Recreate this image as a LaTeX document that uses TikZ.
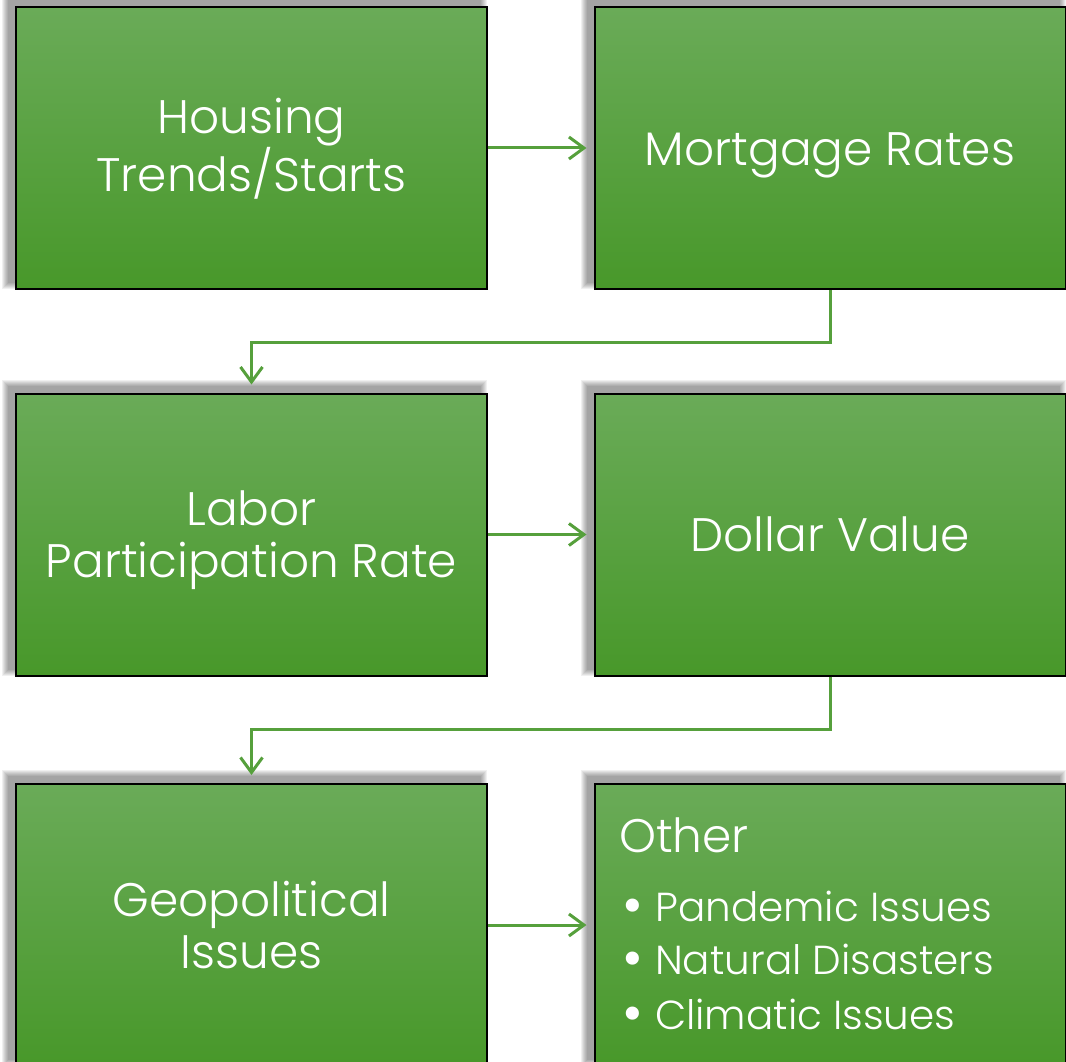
\documentclass[tikz,border=0pt]{standalone}
\usepackage{fontspec}
\setmainfont{Poppins}[UprightFont=* Light]
\usetikzlibrary{arrows.meta}
\definecolor{gtop}{RGB}{106,171,88}
\definecolor{gbot}{RGB}{72,152,42}
\definecolor{arrgreen}{RGB}{86,160,60}
\newcommand{\bigbul}{\makebox[34pt][l]{\hspace{1pt}\raisebox{-3pt}[0pt][0pt]{\scalebox{1.4}{•}}}}
\tikzset{
  box/.style={draw=black, line width=2pt, minimum width=471pt, minimum height=282pt,
    inner sep=0pt, top color=gtop, bottom color=gbot, text=white, align=center,
    font=\fontsize{47}{52}\selectfont, text height=34pt, text depth=0pt},
  twoline/.style={text height=86pt},
  conn/.style={draw=arrgreen, line width=3pt,
    -{Straight Barb[length=15pt,width=22pt,line width=3pt]}, shorten >=7pt},
  listtext/.style={anchor=base west, inner sep=0pt, text=white},
}
\begin{document}
\begin{tikzpicture}[x=1pt,y=-1pt]
\useasboundingbox (0,0) rectangle (1066,1062);
\clip (0,0) rectangle (1066,1062);
\fill[white] (0,0) rectangle (1066,1062);
% soft shadows (offset up-left)
\foreach \cx/\cy in {251.5/148, 830/148, 251.5/534.5, 830/534.5, 251.5/925, 830/925}{
  \foreach \g in {1,...,7}{
    \fill[black, opacity=0.06] (\cx-235.5-7-\g, \cy-141-7-\g) rectangle (\cx+235.5-7+\g, \cy+141-7+\g);
  }
}
% boxes
\node[box, twoline] (hous) at (251.5,148) {Housing\\Trends/Starts};
\node[box] (mort) at (830,148) {Mortgage Rates};
\node[box, twoline] (labr) at (251.5,534.5) {Labor\\Participation Rate};
\node[box] (doll) at (830,534.5) {Dollar Value};
\node[box, twoline] (geop) at (251.5,925) {Geopolitical\\Issues};
\node[box] (othr) at (830,925) {};
% list text in "Other"
\node[listtext, font=\fontsize{47}{52}\selectfont] (othhead) at (619,852) {Other};
\node[listtext, font=\fontsize{40.5}{48}\selectfont] (oth1) at (621,921) {\bigbul Pandemic Issues};
\node[listtext, font=\fontsize{40.5}{48}\selectfont] (oth2) at (621,974) {\bigbul Natural Disasters};
\node[listtext, font=\fontsize{40.5}{48}\selectfont] (oth3) at (621,1029) {\bigbul Climatic Issues};
% connectors
\draw[conn] (hous.east) -- (mort.west);
\draw[conn, shorten >=8pt] (mort.south) -- ++(0,52) -| (labr.north);
\draw[conn] (labr.east) -- (doll.west);
\draw[conn, shorten >=8pt] (doll.south) -- ++(0,53) -| (geop.north);
\draw[conn] (geop.east) -- (othr.west);
\end{tikzpicture}
\end{document}
